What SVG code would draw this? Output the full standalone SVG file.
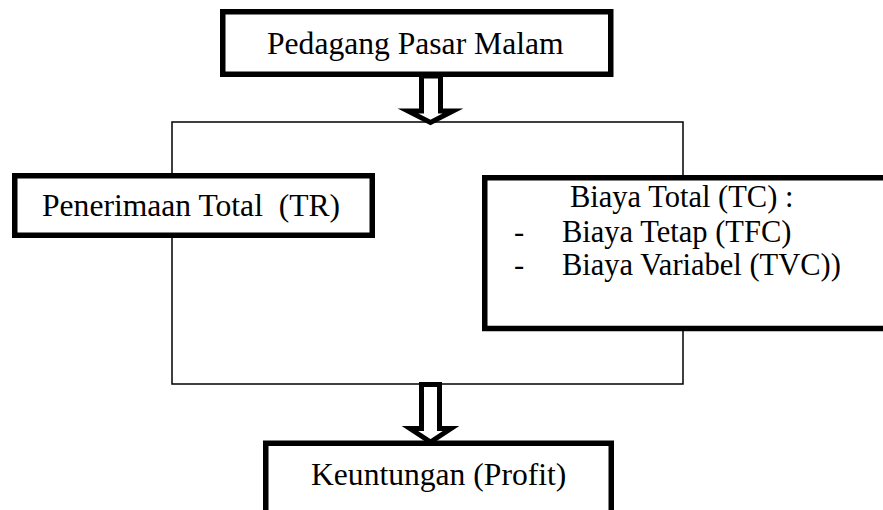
<svg xmlns="http://www.w3.org/2000/svg" width="883" height="510" viewBox="0 0 883 510">
<style>
.box{fill:#fff;stroke:#000;stroke-width:5.5}
.t{font-family:"Liberation Serif","Times New Roman",serif;font-size:31.6px;fill:#000;white-space:pre}
.s{font-size:30.5px}
.ln{fill:none;stroke:#000;stroke-width:1.5}
.arr{fill:#fff;stroke:#000;stroke-width:5;stroke-linejoin:miter;stroke-miterlimit:10}
</style>
<rect width="883" height="510" fill="#fff"/>
<g id="connectors">
<polyline class="ln" points="172,173 172,122 683,122 683,176"/>
<polyline class="ln" points="172,237 172,384 683,384 683,330"/>
<polygon class="arr" points="421.5,76 421.5,111 408,111 430.5,122.5 453,111 440.5,111 440.5,76"/>
<polygon class="arr" points="421.5,384.5 421.5,428.5 410,428.5 430.5,442 451,428.5 439.5,428.5 439.5,384.5"/>
</g>
<g id="node-pedagang">
<rect class="box" x="222.75" y="11.75" width="388" height="62.5"/>
<text class="t" x="267" y="54">Pedagang Pasar Malam</text>
</g>
<g id="node-tr">
<rect class="box" x="14.75" y="175.75" width="357.5" height="59.5"/>
<text class="t" x="42" y="216">Penerimaan Total  (TR)</text>
</g>
<g id="node-tc">
<rect class="box" x="484.75" y="177.75" width="500" height="150.75"/>
<text class="t s" x="570" y="207">Biaya Total (TC) :</text>
<text class="t s" x="514" y="242">-</text>
<text class="t s" x="562" y="242">Biaya Tetap (TFC)</text>
<text class="t s" x="514" y="275">-</text>
<text class="t s" x="562" y="275">Biaya Variabel (TVC))</text>
</g>
<g id="node-profit">
<rect class="box" x="265.75" y="443.25" width="345.5" height="100"/>
<text class="t" x="311" y="485">Keuntungan (Profit)</text>
</g>
</svg>
